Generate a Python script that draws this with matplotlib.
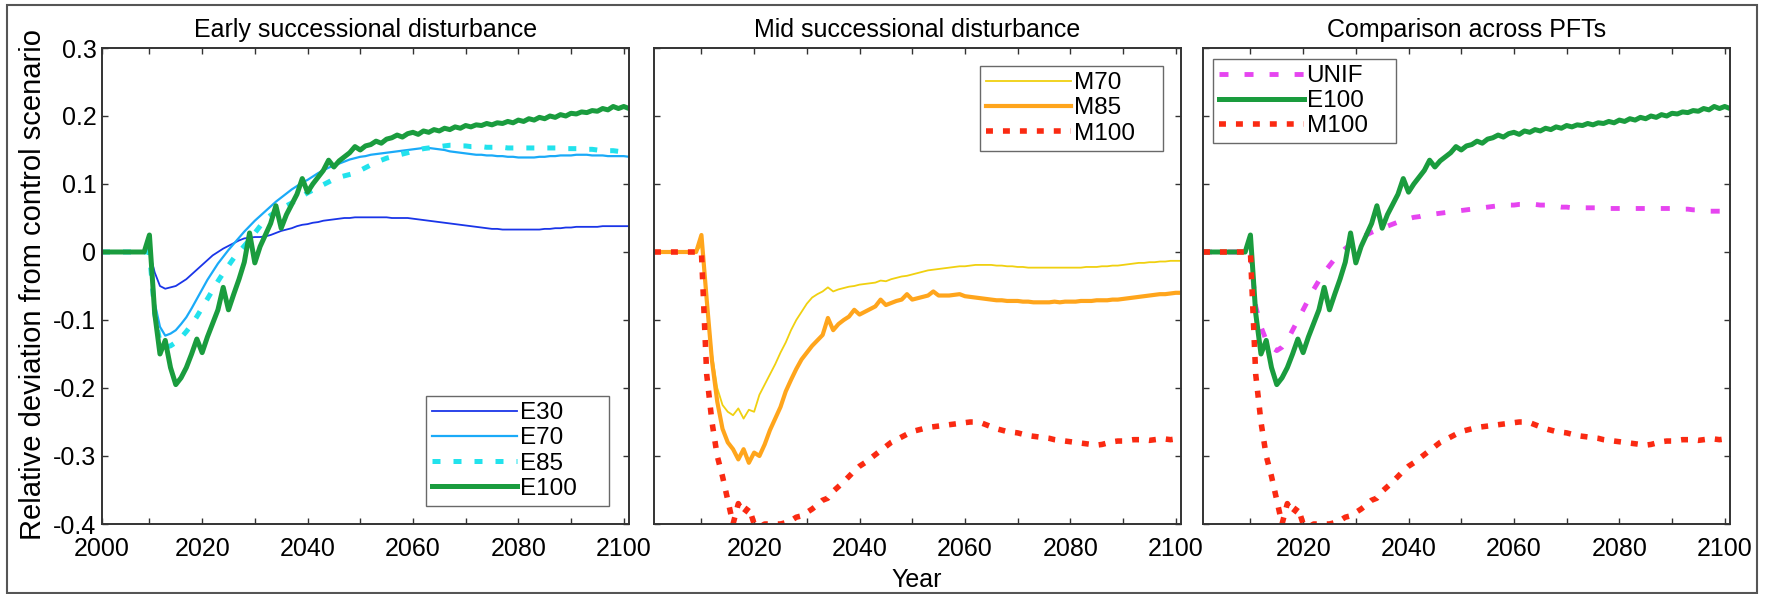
import numpy as np
import matplotlib.pyplot as plt
from matplotlib.patches import Rectangle

plt.rcParams['font.family'] = ['Liberation Sans', 'DejaVu Sans']

# yearly values 2001..2101, flat zero before the disturbance in 2010
years = np.arange(2001, 2102)
flat = [0.0] * 9

e30 = flat + [
    0.0, -0.03, -0.05, -0.054, -0.052, -0.05, -0.045, -0.04, -0.033, -0.026,
    -0.019, -0.012, -0.005, 0.0, 0.005, 0.009, 0.013, 0.017, 0.02, 0.021,
    0.022, 0.022, 0.023, 0.025, 0.028, 0.031, 0.033, 0.035, 0.038, 0.04,
    0.041, 0.043, 0.044, 0.046, 0.047, 0.048, 0.049, 0.05, 0.05, 0.051,
    0.051, 0.051, 0.051, 0.051, 0.051, 0.051, 0.05, 0.05, 0.05, 0.05,
    0.049, 0.048, 0.047, 0.046, 0.045, 0.044, 0.043, 0.042, 0.041, 0.04,
    0.039, 0.038, 0.037, 0.036, 0.035, 0.034, 0.034, 0.033, 0.033, 0.033,
    0.033, 0.033, 0.033, 0.033, 0.033, 0.034, 0.034, 0.035, 0.035, 0.036,
    0.036, 0.037, 0.037, 0.037, 0.037, 0.037, 0.038, 0.038, 0.038, 0.038,
    0.038, 0.038]

e70 = flat + [
    0.005, -0.075, -0.11, -0.123, -0.12, -0.115, -0.106, -0.096, -0.083, -0.069,
    -0.055, -0.041, -0.029, -0.017, -0.007, 0.003, 0.012, 0.021, 0.03, 0.038,
    0.046, 0.053, 0.06, 0.067, 0.074, 0.08, 0.086, 0.092, 0.097, 0.102,
    0.106, 0.111, 0.116, 0.12, 0.124, 0.127, 0.13, 0.133, 0.136, 0.138,
    0.14, 0.141, 0.143, 0.144, 0.145, 0.146, 0.147, 0.148, 0.149, 0.15,
    0.151, 0.152, 0.153, 0.153, 0.152, 0.151, 0.15, 0.148, 0.147, 0.146,
    0.145, 0.144, 0.143, 0.143, 0.142, 0.142, 0.141, 0.141, 0.14, 0.14,
    0.139, 0.139, 0.139, 0.139, 0.14, 0.14, 0.141, 0.141, 0.142, 0.142,
    0.142, 0.143, 0.143, 0.143, 0.142, 0.142, 0.142, 0.141, 0.141, 0.141,
    0.141, 0.14]

e85 = flat + [
    0.0, -0.09, -0.133, -0.14, -0.138, -0.133, -0.126, -0.117, -0.107, -0.095,
    -0.082, -0.069, -0.056, -0.043, -0.031, -0.02, -0.009, 0.0, 0.009, 0.018,
    0.028, 0.038, 0.048, 0.054, 0.059, 0.064, 0.068, 0.072, 0.077, 0.082,
    0.087, 0.091, 0.095, 0.099, 0.103, 0.107, 0.11, 0.112, 0.114, 0.116,
    0.12, 0.124, 0.128, 0.131, 0.135, 0.138, 0.14, 0.142, 0.144, 0.146,
    0.148, 0.15, 0.152, 0.153, 0.154, 0.155, 0.156, 0.157, 0.157, 0.156,
    0.156, 0.155, 0.155, 0.155, 0.154, 0.154, 0.154, 0.154, 0.153, 0.153,
    0.153, 0.153, 0.153, 0.153, 0.153, 0.153, 0.153, 0.153, 0.153, 0.152,
    0.152, 0.152, 0.151, 0.151, 0.151, 0.15, 0.15, 0.149, 0.149, 0.148,
    0.148, 0.148]

e100 = flat + [
    0.025, -0.09, -0.15, -0.13, -0.17, -0.195, -0.185, -0.17, -0.15, -0.128,
    -0.148, -0.125, -0.105, -0.085, -0.052, -0.085, -0.062, -0.04, -0.015, 0.028,
    -0.016, 0.008, 0.025, 0.042, 0.068, 0.035, 0.055, 0.07, 0.085, 0.108,
    0.088, 0.1, 0.11, 0.12, 0.135, 0.125, 0.134, 0.14, 0.146, 0.155,
    0.15, 0.156, 0.158, 0.163, 0.16, 0.166, 0.168, 0.172, 0.169, 0.174,
    0.176, 0.173, 0.178, 0.176, 0.18, 0.178, 0.182, 0.18, 0.184, 0.182,
    0.186, 0.184, 0.187, 0.186, 0.189, 0.187, 0.19, 0.189, 0.192, 0.19,
    0.194, 0.192, 0.196, 0.194, 0.198, 0.196, 0.2, 0.198, 0.202, 0.2,
    0.204, 0.203, 0.206, 0.205, 0.208, 0.207, 0.211, 0.209, 0.214, 0.211,
    0.214, 0.211]

m70 = flat + [
    0.01, -0.07, -0.15, -0.2, -0.225, -0.235, -0.24, -0.23, -0.245, -0.232,
    -0.235, -0.21, -0.195, -0.18, -0.165, -0.148, -0.133, -0.115, -0.1, -0.088,
    -0.076, -0.067, -0.062, -0.058, -0.052, -0.058, -0.055, -0.053, -0.051, -0.05,
    -0.048, -0.047, -0.046, -0.045, -0.042, -0.043, -0.04, -0.038, -0.036, -0.035,
    -0.033, -0.031, -0.029, -0.027, -0.026, -0.025, -0.024, -0.023, -0.022, -0.021,
    -0.021, -0.02, -0.019, -0.019, -0.019, -0.019, -0.02, -0.02, -0.021, -0.021,
    -0.022, -0.022, -0.023, -0.023, -0.023, -0.023, -0.023, -0.023, -0.023, -0.023,
    -0.023, -0.023, -0.023, -0.022, -0.022, -0.022, -0.021, -0.021, -0.02, -0.02,
    -0.019, -0.018, -0.017, -0.016, -0.016, -0.015, -0.015, -0.014, -0.014, -0.013,
    -0.013, -0.013]

m85 = flat + [
    0.025, -0.07, -0.16, -0.22, -0.26, -0.28, -0.29, -0.305, -0.29, -0.31,
    -0.295, -0.3, -0.283, -0.262, -0.245, -0.228, -0.205, -0.188, -0.172, -0.158,
    -0.148, -0.138, -0.13, -0.122, -0.097, -0.115, -0.106, -0.1, -0.095, -0.085,
    -0.092, -0.088, -0.084, -0.08, -0.07, -0.078, -0.075, -0.072, -0.07, -0.062,
    -0.07, -0.068, -0.066, -0.064, -0.058, -0.064, -0.064, -0.064, -0.063, -0.062,
    -0.065, -0.066, -0.067, -0.068, -0.069, -0.07, -0.071, -0.071, -0.072, -0.072,
    -0.072, -0.073, -0.073, -0.074, -0.074, -0.074, -0.074, -0.073, -0.074, -0.073,
    -0.073, -0.073, -0.072, -0.072, -0.072, -0.071, -0.071, -0.071, -0.07, -0.07,
    -0.069, -0.068, -0.067, -0.066, -0.065, -0.064, -0.063, -0.062, -0.062, -0.061,
    -0.06, -0.06]

m100 = flat + [
    0.0, -0.18, -0.25, -0.3, -0.33, -0.365, -0.4, -0.37, -0.385, -0.375,
    -0.4, -0.405, -0.4, -0.4, -0.4, -0.4, -0.398, -0.395, -0.39, -0.388,
    -0.383, -0.378, -0.372, -0.365, -0.362, -0.352, -0.345, -0.338, -0.33, -0.322,
    -0.315, -0.31, -0.304, -0.298, -0.292, -0.286, -0.28, -0.276, -0.272, -0.268,
    -0.264, -0.262, -0.26, -0.258, -0.257, -0.256, -0.255, -0.254, -0.253, -0.252,
    -0.251, -0.25, -0.25, -0.251, -0.254, -0.257, -0.26, -0.262, -0.264, -0.265,
    -0.266, -0.268, -0.27, -0.271, -0.272, -0.273, -0.274, -0.276, -0.277, -0.278,
    -0.279, -0.28, -0.281, -0.282, -0.283, -0.284, -0.283, -0.281, -0.279, -0.278,
    -0.278, -0.277, -0.276, -0.276, -0.276, -0.277, -0.276, -0.275, -0.275, -0.276,
    -0.275, -0.275]

unif = flat + [
    0.0, -0.08, -0.11, -0.13, -0.14, -0.145, -0.14, -0.13, -0.115, -0.1,
    -0.085, -0.07, -0.055, -0.042, -0.03, -0.02, -0.01, -0.002, 0.005, 0.011,
    0.016, 0.021, 0.025, 0.029, 0.032, 0.035, 0.038, 0.041, 0.044, 0.047,
    0.049, 0.051, 0.052, 0.054, 0.055, 0.056, 0.057, 0.058, 0.059, 0.06,
    0.061, 0.062, 0.063, 0.064, 0.065, 0.066, 0.067, 0.068, 0.068, 0.069,
    0.069, 0.07, 0.07, 0.07, 0.07, 0.069, 0.069, 0.068, 0.067, 0.066,
    0.066, 0.065, 0.065, 0.065, 0.065, 0.065, 0.065, 0.064, 0.064, 0.064,
    0.064, 0.064, 0.064, 0.064, 0.064, 0.064, 0.064, 0.064, 0.064, 0.064,
    0.064, 0.064, 0.063, 0.063, 0.062, 0.062, 0.061, 0.06, 0.06, 0.06,
    0.06, 0.06]

titles = ['Early successional disturbance', 'Mid successional disturbance',
          'Comparison across PFTs']
ytick_vals = [-0.4, -0.3, -0.2, -0.1, 0, 0.1, 0.2, 0.3]
ytick_labels = ['-0.4', '-0.3', '-0.2', '-0.1', '0', '0.1', '0.2', '0.3']

# line styles: colour, width, dash pattern (None = solid)
styles = {
    'E30': ('#1a35e8', 1.3, None),
    'E70': ('#1aaaf8', 1.6, None),
    'E85': ('#22e2ec', 3.6, (1.6, 2.6)),
    'E100': ('#1a9c3e', 3.6, None),
    'M70': ('#f0d010', 1.3, None),
    'M85': ('#ffa51c', 3.0, None),
    'M100': ('#fa2a12', 4.0, (1.25, 1.8)),
    'UNIF': ('#e645f0', 3.5, (1.85, 3.3)),
}
series = {'E30': e30, 'E70': e70, 'E85': e85, 'E100': e100,
          'M70': m70, 'M85': m85, 'M100': m100, 'UNIF': unif}
panels = [['E30', 'E70', 'E85', 'E100'],
          ['M70', 'M85', 'M100'],
          ['UNIF', 'E100', 'M100']]

fig = plt.figure(figsize=(17.68, 5.94), dpi=100)
W, H = 1768.0, 594.0
lefts = [102, 654, 1203]
# legend boxes (axes fraction): loc, (x0, y0, width, height)
leg_pos = [('lower left', (0.615, 0.038, 0.347, 0.3)),
           ('upper left', (0.619, 0.5, 0.347, 0.462)),
           ('upper left', (0.019, 0.5, 0.347, 0.477))]

for i in range(3):
    ax = fig.add_axes([lefts[i] / W, 70 / H, 527 / W, 476 / H])
    for name in panels[i]:
        col, lw, dash = styles[name]
        if dash is None:
            ax.plot(years, series[name], color=col, lw=lw, label=name)
        else:
            ax.plot(years, series[name], color=col, lw=lw, label=name,
                    linestyle=(0, dash), dash_capstyle='butt')
    ax.set_xlim(2001, 2101)
    ax.set_ylim(-0.4, 0.3)
    ax.set_yticks(ytick_vals)
    if i == 0:
        ax.set_yticklabels(ytick_labels)
        xt = [2001] + list(range(2010, 2101, 10))
        xl = ['2000'] + [str(t) if t % 20 == 0 else '' for t in range(2010, 2101, 10)]
    else:
        ax.set_yticklabels([])
        xt = list(range(2010, 2101, 10))
        xl = [str(t) if t % 20 == 0 else '' for t in xt]
    ax.set_xticks(xt)
    ax.set_xticklabels(xl)
    ax.tick_params(direction='in', top=True, right=True, length=4, width=1,
                   color='#333333', labelsize=18)
    ax.tick_params(axis='x', pad=9)
    ax.tick_params(axis='y', pad=4)
    for sp in ax.spines.values():
        sp.set_color('#333333')
        sp.set_linewidth(1.4)
    ax.set_title(titles[i], fontsize=18, pad=8)
    loc, box = leg_pos[i]
    leg = ax.legend(loc=loc, bbox_to_anchor=box, mode='expand',
                    borderaxespad=0, fontsize=17.5, handlelength=3.5,
                    handletextpad=0.1, labelspacing=0.13, borderpad=0.25,
                    fancybox=False)
    leg.get_frame().set_edgecolor('#444444')
    leg.get_frame().set_linewidth(1.0)

fig.text(33 / W, 1 - 284 / H, 'Relative deviation from control scenario',
         rotation=90, ha='center', va='center', fontsize=21)
fig.text(917 / W, 1 - 580 / H, 'Year', ha='center', va='center', fontsize=18)

fig.patches.append(Rectangle((7 / W, 1 / H), 1750 / W, 588 / H,
                             transform=fig.transFigure, fill=False,
                             ec='#555555', lw=1.5))

fig.savefig('out.png', dpi=100)
